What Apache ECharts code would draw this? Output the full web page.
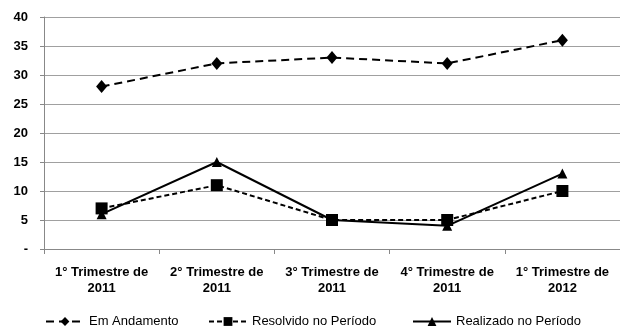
<!DOCTYPE html>
<html><head><meta charset="utf-8">
<script src="https://cdn.jsdelivr.net/npm/echarts@6/dist/echarts.min.js"></script>
<style>html,body{margin:0;padding:0;background:#fff}#c{width:620px;height:331px}</style>
</head><body><div id="c"></div>
<script>
var categories = ["1° Trimestre de\n2011","2° Trimestre de\n2011","3° Trimestre de\n2011","4° Trimestre de\n2011","1° Trimestre de\n2012"];
var emAndamento = [28, 32, 33, 32, 36];
var resolvido = [7, 11, 5, 5, 10];
var realizado = [6, 15, 5, 4, 13];
var seriesNames = ["Em Andamento", "Resolvido no Período", "Realizado no Período"];

var chart = echarts.init(document.getElementById('c'));
var font = 'Liberation Sans, Arial, sans-serif';
function legend(name, left) {
  return {
    data: [name], left: left, top: 315, itemWidth: 38, itemHeight: 11, itemGap: 5,
    textStyle: {fontFamily: font, fontSize: 13, color: '#000'}, padding: 0
  };
}
chart.setOption({
  animation: false,
  grid: {left: 44, right: -5, top: 17, bottom: 82},
  legend: [legend(seriesNames[0], 45), legend(seriesNames[1], 208), legend(seriesNames[2], 412)],
  xAxis: {
    type: 'category', data: categories, boundaryGap: true,
    axisLine: {lineStyle: {color: '#888', width: 1}},
    axisTick: {show: true, length: 5, lineStyle: {color: '#888'}},
    axisLabel: {fontFamily: font, fontSize: 13, fontWeight: 'bold', color: '#000', margin: 15, lineHeight: 16, interval: 0}
  },
  yAxis: {
    type: 'value', min: 0, max: 40, interval: 5,
    axisLine: {show: true, lineStyle: {color: '#888'}},
    axisTick: {show: true, length: 4, lineStyle: {color: '#888'}},
    splitLine: {lineStyle: {color: '#a0a0a0', width: 1}},
    axisLabel: {fontFamily: font, fontSize: 13, fontWeight: 'bold', color: '#000', margin: 16,
      formatter: function (v) { return v === 0 ? '-' : v; }}
  },
  series: [
    {name: seriesNames[0], type: 'line', data: emAndamento, symbol: 'diamond', symbolSize: [11, 13],
     lineStyle: {color: '#000', width: 2, type: [8, 5]}, itemStyle: {color: '#000'}},
    {name: seriesNames[1], type: 'line', data: resolvido, symbol: 'rect', symbolSize: 12,
     lineStyle: {color: '#000', width: 2, type: [5, 3]}, itemStyle: {color: '#000'}},
    {name: seriesNames[2], type: 'line', data: realizado, symbol: 'triangle', symbolSize: 10,
     lineStyle: {color: '#000', width: 2, type: 'solid'}, itemStyle: {color: '#000'}}
  ]
});
</script></body></html>
